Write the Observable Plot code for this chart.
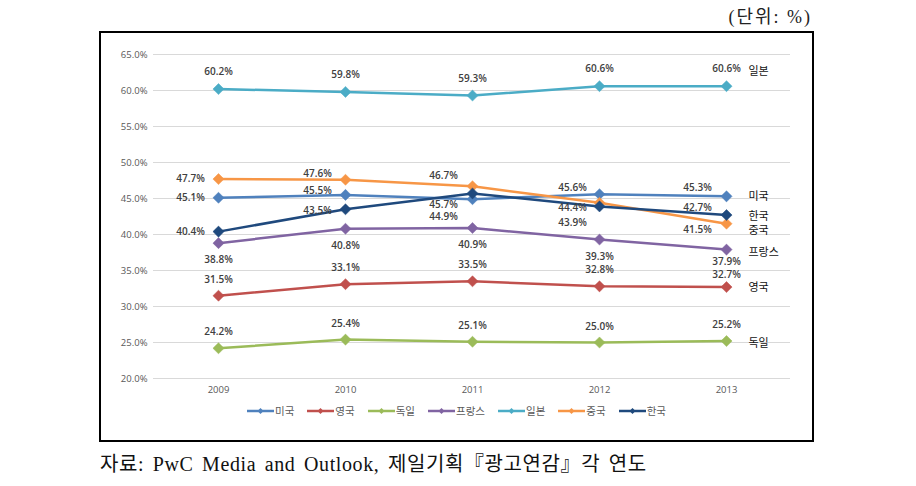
<!DOCTYPE html>
<html><head><meta charset="utf-8">
<script src="https://cdn.jsdelivr.net/npm/d3@7"></script>
<script src="https://cdn.jsdelivr.net/npm/@observablehq/plot@0.6"></script>
<style>
body{margin:0;background:#fff;}
#wrap{position:relative;width:916px;height:486px;overflow:hidden;font-family:"Noto Sans CJK KR","Noto Sans",sans-serif;}
#unit{position:absolute;top:2px;right:104px;font-size:18px;letter-spacing:2px;font-family:"Liberation Serif","Noto Sans CJK KR",serif;color:#222;white-space:nowrap;}
#box{position:absolute;left:99px;top:31px;width:715px;height:411px;box-sizing:border-box;border:2px solid #000;}
#chart{position:absolute;left:0;top:0;}
#legend{position:absolute;top:370px;left:0;width:711px;display:flex;justify-content:center;gap:13px;font-size:10.5px;color:#595959;}
#legend span.item{display:flex;align-items:center;gap:1px;}
#caption{position:absolute;left:100px;top:448px;font-size:20px;letter-spacing:0.6px;word-spacing:3px;font-family:"Liberation Serif","Noto Sans CJK KR",serif;color:#111;white-space:nowrap;}
</style></head>
<body>
<div id="wrap">
  <div id="unit">(단위: %)</div>
  <div id="box"><div id="chart"></div><div id="legend"></div></div>
  <div id="caption">자료: PwC Media and Outlook, 제일기획『광고연감』각 연도</div>
</div>
<script>
// ---- data ----
const years = ["2009", "2010", "2011", "2012", "2013"];
const seriesNames = ["미국", "영국", "독일", "프랑스", "일본", "중국", "한국"];
const usa     = [45.1, 45.5, 44.9, 45.6, 45.3];
const uk      = [31.5, 33.1, 33.5, 32.8, 32.7];
const germany = [24.2, 25.4, 25.1, 25.0, 25.2];
const france  = [38.8, 40.8, 40.9, 39.3, 37.9];
const japan   = [60.2, 59.8, 59.3, 60.6, 60.6];
const china   = [47.7, 47.6, 46.7, 44.4, 41.5];
const korea   = [40.4, 43.5, 45.7, 43.9, 42.7];
const yTicks  = [20, 25, 30, 35, 40, 45, 50, 55, 60, 65];

// ---- styling / layout config ----
const seriesValues = [usa, uk, germany, france, japan, china, korea];
const colors = ["#4F81BD", "#C0504D", "#9BBB59", "#8064A2", "#4BACC6", "#F79646", "#1F497D"];
const labelOffsets = [
  [[-28,0],[-28,-4],[-29,18],[-27,-6],[-29,-9]],   // 미국
  [[0,-16],[0,-16],[0,-17],[0,-17],[0,-12]],       // 영국
  [[0,-16],[0,-16],[0,-16],[0,-16],[0,-16]],       // 독일
  [[0,17],[0,17],[0,17],[0,17],[0,12]],            // 프랑스
  [[0,-17],[0,-17],[0,-17],[0,-17],[0,-17]],       // 일본
  [[-28,0],[-28,-6],[-29,-10],[-27,5],[-29,6]],    // 중국
  [[-28,0],[-28,1],[-29,11],[-27,16],[-29,-7]]     // 한국
];
const endLabelDy = [0, 0, 2, 3, -15, 7, 1];

const rows = seriesNames.flatMap((s, i) => seriesValues[i].map((v, j) => ({
  series: s, year: years[j], value: v, off: labelOffsets[i][j]
})));

const marks = [Plot.gridY(yTicks, {stroke: "#d9d9d9", strokeOpacity: 1, strokeWidth: 1})];
seriesNames.forEach((s, i) => {
  const d = rows.filter(r => r.series === s);
  marks.push(Plot.line(d, {x: "year", y: "value", stroke: colors[i], strokeWidth: 2.5}));
  marks.push(Plot.dot(d, {x: "year", y: "value", symbol: "diamond2", r: 5, fill: colors[i], stroke: colors[i], strokeWidth: 0.5}));
});
// data labels grouped by offset
const groups = d3.group(rows, r => r.off.join(","));
for (const [key, d] of groups) {
  const [dx, dy] = key.split(",").map(Number);
  marks.push(Plot.text(d, {x: "year", y: "value", text: r => r.value.toFixed(1) + "%", dx, dy,
    fill: "#404040", fontSize: 10, fontWeight: 600, fontFamily: "'Open Sans','Noto Sans',sans-serif"}));
}
// series name labels at the end
seriesNames.forEach((s, i) => {
  const last = rows.filter(r => r.series === s).slice(-1);
  marks.push(Plot.text(last, {x: "year", y: "value", text: () => s, dx: 22, dy: endLabelDy[i],
    textAnchor: "start", fill: "#111", fontSize: 11, fontFamily: "'Noto Sans CJK KR',sans-serif"}));
});
marks.push(Plot.axisY(yTicks, {tickSize: 0, tickPadding: 6, tickFormat: d => d.toFixed(1) + "%", fill: "#595959", fontSize: 9.5, fontFamily: "'Open Sans','Noto Sans',sans-serif"}));
marks.push(Plot.axisX({tickSize: 0, tickPadding: 8, fill: "#595959", fontSize: 9.5, fontFamily: "'Open Sans','Noto Sans',sans-serif"}));

const chart = Plot.plot({
  width: 711, height: 372,
  marginLeft: 52, marginRight: 22, marginTop: 21, marginBottom: 27,
  x: {type: "point", domain: years, padding: 0.5, label: null},
  y: {domain: [20, 65], label: null},
  style: {background: "transparent", overflow: "visible"},
  marks
});
document.getElementById("chart").append(chart);

// legend
const legend = document.getElementById("legend");
seriesNames.forEach((s, i) => {
  const item = document.createElement("span");
  item.className = "item";
  item.innerHTML = `<svg width="27" height="8"><line x1="0" y1="4" x2="27" y2="4" stroke="${colors[i]}" stroke-width="2.5"/><path d="M13.5 1L16.5 4L13.5 7L10.5 4Z" fill="${colors[i]}"/></svg><span>${s}</span>`;
  legend.append(item);
});
</script>
</body></html>
